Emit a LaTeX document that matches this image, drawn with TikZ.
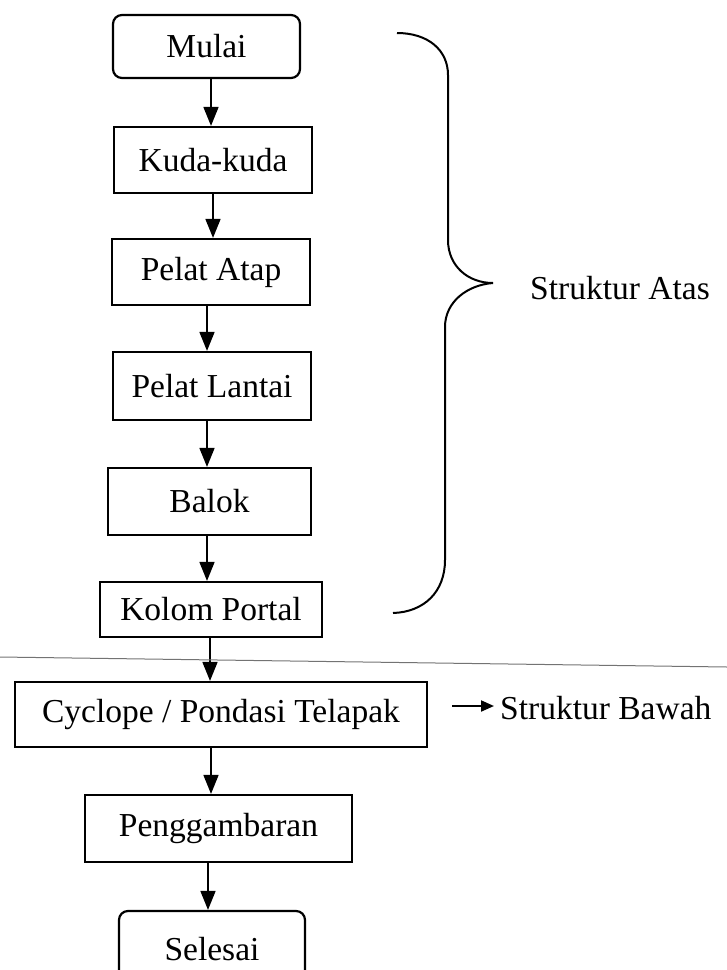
\documentclass[tikz,border=0pt]{standalone}
\usepackage{fontspec}
\setmainfont{Liberation Serif}
\usetikzlibrary{arrows.meta}
\begin{document}
\begin{tikzpicture}[x=1pt,y=-1pt,
  box/.style={draw,line width=2.2pt,inner sep=0pt,font=\fontsize{33.5}{38}\selectfont},
  rbox/.style={box,rounded corners=9pt},
  arr/.style={line width=1.7pt,-{Triangle[length=19pt,width=15pt]}},
  sarr/.style={line width=2pt,-{Triangle[length=13pt,width=11pt]}},
  lbl/.style={font=\fontsize{33.5}{38}\selectfont,inner sep=0pt},
  brace/.style={line width=2pt}]
\useasboundingbox (0,0) rectangle (727,970);
\clip (0,0) rectangle (727,970);
% nodes
\node[rbox,minimum width=187pt,minimum height=63pt] (mulai) at (206.5,46.5) {Mulai};
\node[box,minimum width=198pt,minimum height=66pt] (kuda) at (213,160) {Kuda-kuda};
\node[box,minimum width=198pt,minimum height=66pt] (atap) at (211,272) {Pelat Atap};
\node[box,minimum width=198pt,minimum height=68pt] (lantai) at (212,386) {Pelat Lantai};
\node[box,minimum width=203pt,minimum height=67pt] (balok) at (209.5,501.5) {Balok};
\node[box,minimum width=222pt,minimum height=55pt] (kolom) at (211,609.5) {Kolom Portal};
\node[box,minimum width=412pt,minimum height=65pt] (cyc) at (221,714.5) {Cyclope / Pondasi Telapak};
\node[box,minimum width=267pt,minimum height=67pt] (peng) at (218.5,828.5) {Penggambaran};
\node[rbox,minimum width=186pt,minimum height=84pt,text depth=0pt] (selesai) at (212,953) {\raisebox{9pt}{Selesai}};
\node[lbl,anchor=west] (atas) at (530,288) {Struktur Atas};
\node[lbl,anchor=west] (bawah) at (500,708) {Struktur Bawah};
% arrow x positions
\coordinate (x1) at (211,0);
\coordinate (x2) at (213,0);
\coordinate (x3) at (207,0);
\coordinate (x4) at (207,0);
\coordinate (x5) at (207,0);
\coordinate (x6) at (210,0);
\coordinate (x7) at (211,0);
\coordinate (x8) at (208,0);
\draw[arr] (mulai.south -| x1) -- (kuda.north -| x1);
\draw[arr] (kuda.south -| x2) -- (atap.north -| x2);
\draw[arr] (atap.south -| x3) -- (lantai.north -| x3);
\draw[arr] (lantai.south -| x4) -- (balok.north -| x4);
\draw[arr] (balok.south -| x5) -- (kolom.north -| x5);
\draw[arr] (kolom.south -| x6) -- (cyc.north -| x6);
\draw[arr] (cyc.south -| x7) -- (peng.north -| x7);
\draw[arr] (peng.south -| x8) -- (selesai.north -| x8);
% struktur bawah arrow
\coordinate (bs) at (452,706);
\draw[sarr] (bs) -- (494,706);
% brace
\draw[brace] (397,33) .. controls (428,33) and (448,50) .. (448,75) -- (448,240)
  .. controls (448,266) and (468,283) .. (493,283);
\draw[brace] (493,283) .. controls (467,285) and (445,302) .. (445,327) -- (445,560)
  .. controls (445,592) and (424,612) .. (393,613);
% scan line
\draw[black!55,line width=1pt] (0,657) -- (727,667);
\end{tikzpicture}
\end{document}
